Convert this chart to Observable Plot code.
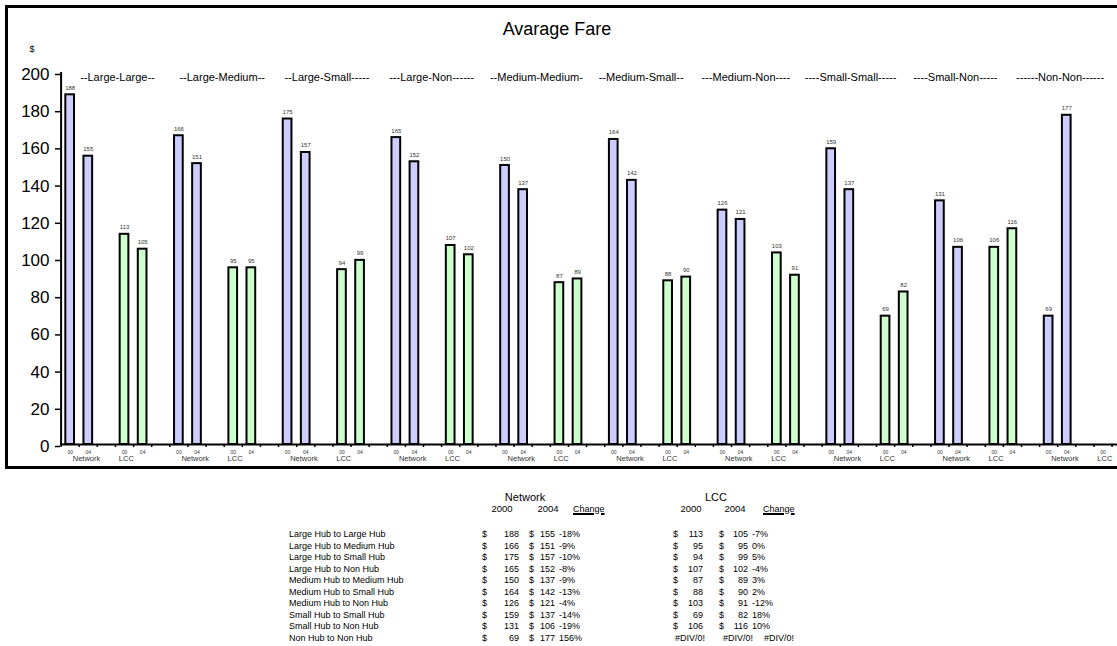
<!DOCTYPE html>
<html>
<head>
<meta charset="utf-8">
<script src="https://cdn.jsdelivr.net/npm/d3@7"></script>
<script src="https://cdn.jsdelivr.net/npm/@observablehq/plot@0.6"></script>
<style>
  body { margin: 0; background: #fff; font-family: "Liberation Sans", Arial, sans-serif; }
  #page { position: relative; width: 1117px; height: 646px; overflow: hidden; background: #fff; }
  #frame { position: absolute; left: 5px; top: 5px; width: 1140px; height: 464px; border: 3px solid #000; box-sizing: border-box; }
  #chart { position: absolute; left: 0; top: 0; }
  #title { position: absolute; left: 0; top: 19px; width: 1114px; text-align: center; font-size: 18px; color: #000; }
  .cell { position: absolute; font-size: 9px; line-height: 10px; color: #000; white-space: pre; }
</style>
</head>
<body>
<div id="page">
  <div id="frame"></div>
  <div id="chart"></div>
  <div id="title">Avarage Fare</div>
  <div id="table"></div>
</div>
<script>
// Route groups as labelled above the bars
const headerLabels = [
  "--Large-Large--", "--Large-Medium--", "--Large-Small-----", "---Large-Non------",
  "--Medium-Medium-", "--Medium-Small--", "---Medium-Non----", "----Small-Small-----",
  "----Small-Non-----", "------Non-Non------"
];
// Route names in the summary table
const routeNames = [
  "Large Hub to Large Hub", "Large Hub to Medium Hub", "Large Hub to Small Hub", "Large Hub to Non Hub",
  "Medium Hub to Medium Hub", "Medium Hub to Small Hub", "Medium Hub to Non Hub",
  "Small Hub to Small Hub", "Small Hub to Non Hub", "Non Hub to Non Hub"
];
const carriers = ["Network", "LCC"];
const yearTicks = ["00", "04"];

// Average fares ($)
const network2000 = [188, 166, 175, 165, 150, 164, 126, 159, 131, 69];
const network2004 = [155, 151, 157, 152, 137, 142, 121, 137, 106, 177];
const networkChange = ["-18%", "-9%", "-10%", "-8%", "-9%", "-13%", "-4%", "-14%", "-19%", "156%"];
const lcc2000 = [113, 95, 94, 107, 87, 88, 103, 69, 106, null];
const lcc2004 = [105, 95, 99, 102, 89, 90, 91, 82, 116, null];
const lccChange = ["-7%", "0%", "5%", "-4%", "3%", "2%", "-12%", "18%", "10%", "#DIV/0!"];

const yTicks = [0, 20, 40, 60, 80, 100, 120, 140, 160, 180, 200];

// Each route group takes six category slots: Network 00, 04, blank, LCC 00, 04, blank
const SLOTS = 6;
const series = [[network2000, network2004], [lcc2000, lcc2004]];

const bars = [];
const yearLabels = [];
const carrierLabels = [];
routeNames.forEach((route, g) => {
  series.forEach((pair, c) => {
    pair.forEach((arr, y) => {
      const slot = g * SLOTS + c * 3 + y;
      yearLabels.push({slot, text: yearTicks[y]});
      if (arr[g] != null) bars.push({slot, value: arr[g], carrier: carriers[c]});
    });
    carrierLabels.push({pos: g * SLOTS + (c === 0 ? 1.4 : 3.6), text: carriers[c]});
  });
});

const chart = Plot.plot({
  width: 1117,
  height: 470,
  marginTop: 72,
  marginBottom: 26,
  marginLeft: 60,
  marginRight: 0,
  style: {fontFamily: "'Liberation Sans', Arial, sans-serif", background: "transparent", overflow: "hidden", color: "#000"},
  x: {domain: [0, routeNames.length * SLOTS], range: [60.6, 1147.8], axis: null},
  y: {domain: [0, 200], axis: null},
  color: {domain: carriers, range: ["#ccccff", "#ccffcc"]},
  marks: [
    Plot.axisY({ticks: yTicks, tickSize: 5, tickPadding: 6, fontSize: 17, dy: 2, label: null, stroke: "#000", fill: "#000", strokeWidth: 1.5}),
    Plot.axisX({ticks: d3.range(0, routeNames.length * SLOTS + 1), tickSize: 3, tickFormat: () => "", label: null, stroke: "#000", strokeWidth: 1.5}),
    Plot.rectY(bars, {
      x1: d => d.slot + 0.26,
      x2: d => d.slot + 0.74,
      y1: 0,
      y2: "value",
      fill: "carrier",
      stroke: "#000",
      strokeWidth: 2
    }),
    Plot.ruleY([0], {stroke: "#000", strokeWidth: 2}),
    Plot.ruleX([0], {y1: 0, y2: 200, stroke: "#000", strokeWidth: 2}),
    Plot.text(bars, {x: d => d.slot + 0.5, y: "value", text: d => String(d.value), lineAnchor: "bottom", dy: -5, fontSize: 6, fill: "#333"}),
    Plot.text(headerLabels, {x: (d, i) => 3.11 + i * 5.78, y: () => 200, text: d => d, dy: 5, fontSize: 11, fill: "#000"}),
    Plot.text(yearLabels, {x: d => d.slot + 0.5, frameAnchor: "bottom", dy: 9.5, text: "text", fontSize: 5, fill: "#333"}),
    Plot.text(carrierLabels, {x: "pos", frameAnchor: "bottom", dy: 16.5, text: "text", fontSize: 7.5, fill: "#333"}),
    Plot.text(["$"], {frameAnchor: "top-left", dx: -31, dy: -27, fontSize: 9, fill: "#000"})
  ]
});
document.getElementById("chart").append(chart);

// Summary table below the chart
const table = document.getElementById("table");
function put(text, x, y, align = "left", extra = {}) {
  const el = document.createElement("div");
  el.className = "cell";
  el.textContent = text;
  const w = 120;
  if (align === "left") el.style.left = x + "px";
  else if (align === "right") { el.style.left = (x - w) + "px"; el.style.width = w + "px"; el.style.textAlign = "right"; }
  else { el.style.left = (x - w / 2) + "px"; el.style.width = w + "px"; el.style.textAlign = "center"; }
  el.style.top = (y - 5) + "px";
  Object.assign(el.style, extra);
  table.append(el);
}

put("Network", 525, 497, "center", {fontSize: "11px", lineHeight: "11px"});
put("LCC", 716, 497, "center", {fontSize: "11px", lineHeight: "11px"});
put("2000", 502, 509, "center", {fontSize: "9.5px"});
put("2004", 548, 509, "center", {fontSize: "9.5px"});
put("Change", 573, 509, "left", {textDecoration: "underline", textDecorationThickness: "1.5px"});
put("2000", 691, 509, "center", {fontSize: "9.5px"});
put("2004", 735, 509, "center", {fontSize: "9.5px"});
put("Change", 763, 509, "left", {textDecoration: "underline", textDecorationThickness: "1.5px"});

routeNames.forEach((name, i) => {
  const y = 534 + i * 11.55;
  put(name, 289, y);
  put("$", 482, y);
  put(String(network2000[i]), 519, y, "right");
  put("$", 529, y);
  put(String(network2004[i]), 555, y, "right");
  put(networkChange[i], 559, y);
  if (lcc2000[i] != null) {
    put("$", 673, y);
    put(String(lcc2000[i]), 703, y, "right");
    put("$", 719, y);
    put(String(lcc2004[i]), 748, y, "right");
    put(lccChange[i], 752, y);
  } else {
    put("#DIV/0!", 675, y);
    put("#DIV/0!", 723, y);
    put(lccChange[i], 764, y);
  }
});
</script>
</body>
</html>
